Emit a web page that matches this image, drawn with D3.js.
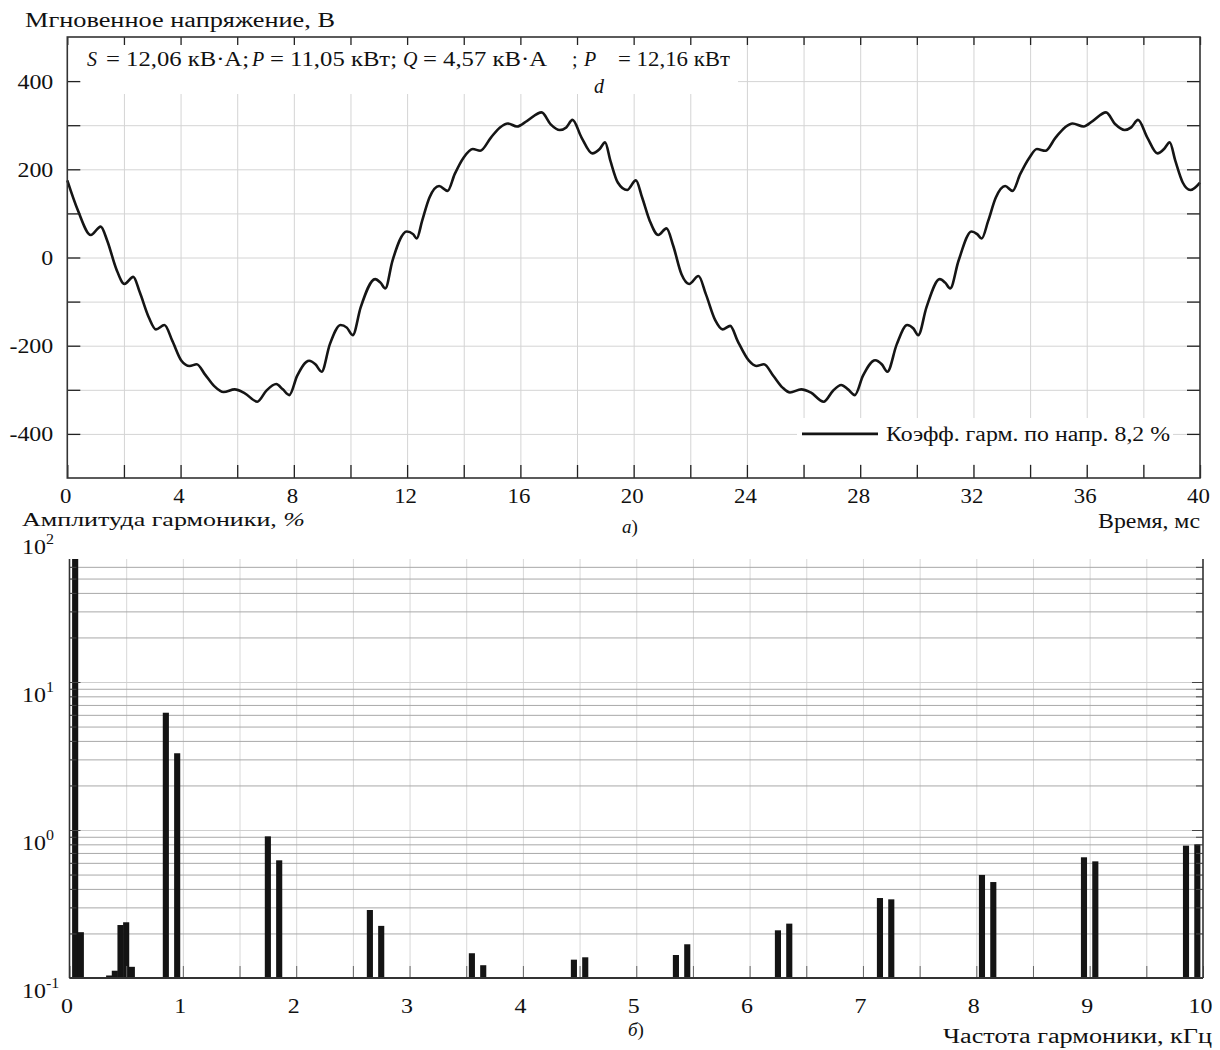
<!DOCTYPE html>
<html>
<head>
<meta charset="utf-8">
<script src="https://cdn.jsdelivr.net/npm/d3@7"></script>
<style>
    body { margin: 0; background: #fff; }
    svg { display: block; }
    text { font-family: "Liberation Serif", "Times New Roman", serif; font-size: 21px; fill: #111; }
</style>
</head>
<body>
<svg id="chart" width="1220" height="1050"></svg>
<script>
/*
    Data
*/
// (a) instantaneous voltage
const waveTime = [0, 0.38, 0.83, 1.18, 1.41, 1.73, 2.02, 2.33, 2.56, 2.88, 3.13, 3.43, 3.71, 4.03, 4.32, 4.57, 4.86, 5.18, 5.52, 5.91,
    6.27, 6.71, 7.03, 7.38, 7.61, 7.84, 8.12, 8.54, 8.76, 8.98, 9.27, 9.65, 9.87, 10.08, 10.36, 10.87, 11.06, 11.23, 11.48, 11.99,
    12.21, 12.34, 12.53, 12.79, 13.13, 13.43, 13.68, 14.0, 14.32, 14.58, 14.96, 15.28, 15.56, 15.88, 16.24, 16.75, 17.07, 17.39, 17.62, 17.84,
    18.16, 18.54, 18.8, 18.99, 19.18, 19.44, 19.77, 20.08, 20.3, 20.57, 20.87, 21.16, 21.4, 21.69, 21.96, 22.29, 22.55, 22.88, 23.14, 23.41,
    23.67, 24.07, 24.33, 24.6, 24.93, 25.26, 25.52, 25.92, 26.25, 26.71, 27.04, 27.33, 27.57, 27.81, 28.1, 28.53, 28.76, 28.96, 29.29, 29.66,
    29.88, 30.05, 30.34, 30.81, 31.0, 31.18, 31.47, 31.93, 32.13, 32.29, 32.52, 32.79, 33.12, 33.38, 33.65, 33.98, 34.24, 34.54, 34.9, 35.23,
    35.5, 35.89, 36.22, 36.68, 37.01, 37.34, 37.57, 37.81, 38.14, 38.5, 38.73, 38.93, 39.13, 39.39, 39.66, 40];
const waveVolt = [175, 106, 51, 70, 38, -26, -60, -44, -79, -136, -163, -153, -189, -234, -246, -242, -265, -291, -305, -299,
    -308, -327, -302, -287, -299, -312, -268, -234, -242, -259, -197, -153, -159, -176, -113, -49, -57, -70, -8, 59,
    53, 43, 83, 136, 162, 151, 189, 227, 246, 242, 272, 295, 304, 297, 310, 329, 302, 289, 295, 312,
    272, 236, 246, 261, 219, 170, 153, 175, 136, 83, 51, 66, 26, -38, -60, -42, -83, -142, -163, -155,
    -189, -234, -246, -242, -268, -295, -306, -299, -306, -327, -302, -289, -299, -312, -268, -233, -242, -259, -197, -153,
    -161, -176, -113, -49, -57, -70, -8, 59, 53, 43, 83, 136, 162, 151, 189, 227, 246, 242, 272, 295,
    304, 297, 310, 329, 302, 289, 295, 312, 272, 236, 246, 261, 219, 170, 153, 170];
const timeTicks = [0, 2, 4, 6, 8, 10, 12, 14, 16, 18, 20, 22, 24, 26, 28, 30, 32, 34, 36, 38, 40];
const timeLabels = [0, 4, 8, 12, 16, 20, 24, 28, 32, 36, 40];
const voltTicks = [-400, -300, -200, -100, 0, 100, 200, 300, 400];
const voltLabels = [-400, -200, 0, 200, 400];

// (б) harmonic spectrum
const harmFreq = [0.05, 0.1, 0.35, 0.4, 0.45, 0.5, 0.55, 0.85, 0.95, 1.75, 1.85, 2.65, 2.75, 3.55, 3.65, 4.45, 4.55,
    5.35, 5.45, 6.25, 6.35, 7.15, 7.25, 8.05, 8.15, 8.95, 9.05, 9.85, 9.95];
const harmAmp = [100, 0.204, 0.104, 0.112, 0.228, 0.238, 0.119, 6.2, 3.3, 0.906, 0.624, 0.288, 0.225, 0.147, 0.122, 0.133, 0.138,
    0.143, 0.169, 0.21, 0.233, 0.347, 0.34, 0.497, 0.445, 0.654, 0.614, 0.784, 0.8];
const freqTicks = [0, 0.5, 1, 1.5, 2, 2.5, 3, 3.5, 4, 4.5, 5, 5.5, 6, 6.5, 7, 7.5, 8, 8.5, 9, 9.5, 10];
const freqLabels = [0, 1, 2, 3, 4, 5, 6, 7, 8, 9, 10];
const ampGrid = [0.1, 0.2, 0.3, 0.4, 0.5, 0.6, 0.7, 0.8, 0.9, 1, 2, 3, 4, 5, 6, 7, 8, 9, 10, 20, 30, 40, 50, 60];
const ampDecades = [0.1, 1, 10, 100];
const ampExp = ["-1", "0", "1", "2"];

const SX = 1.14; // the scan is stretched horizontally
const svg = d3.select("#chart");

function label(g, x, y, s, o = {}) {
    const t = g.append("text").attr("x", x).attr("y", y);
    if (s !== null) t.text(s);
    if (o.size) t.style("font-size", o.size + "px");
    if (o.anchor) t.attr("text-anchor", o.anchor);
    if (o.italic) t.style("font-style", "italic");
    if (o.len) t.attr("textLength", o.len).attr("lengthAdjust", "spacingAndGlyphs");
    return t;
}

/*
    (a) Voltage waveform
*/
function drawWave() {
    const left = 67.3, right = 1200, top = 37, bottom = 478;
    const x = d3.scaleLinear().domain([0, 40]).range([left, right]);
    const y = d3.scaleLinear().domain([-500, 500]).range([bottom, top]);
    const g = svg.append("g");

    // Grid
    const gx = g.append("g").attr("transform", `translate(0,${bottom})`)
        .call(d3.axisBottom(x).tickValues(timeTicks.slice(1, -1)).tickSize(-(bottom - top)).tickFormat(""));
    const gy = g.append("g").attr("transform", `translate(${left},0)`)
        .call(d3.axisLeft(y).tickValues(voltTicks).tickSize(-(right - left)).tickFormat(""));
    [gx, gy].forEach(a => {
        a.select(".domain").remove();
        a.selectAll("line").attr("stroke", "#d4d4d4");
    });

    // White boxes behind annotation and legend
    g.append("rect").attr("x", left + 1).attr("y", top + 1).attr("width", 737 - left).attr("height", 93 - top).attr("fill", "#fff");
    g.append("rect").attr("x", 797).attr("y", 418).attr("width", 376).attr("height", 46).attr("fill", "#fff");

    // Curve
    const line = d3.line()
        .x((d, i) => x(waveTime[i]))
        .y(d => y(d))
        .curve(d3.curveMonotoneX);
    g.append("path").datum(waveVolt)
        .attr("d", line)
        .attr("fill", "none")
        .attr("stroke", "#151515")
        .attr("stroke-width", 2.6)
        .attr("stroke-linejoin", "round");

    // Axes ticks
    const axB = g.append("g").attr("transform", `translate(0,${bottom})`)
        .call(d3.axisBottom(x).tickValues(timeTicks).tickSizeInner(-13).tickSizeOuter(0)
            .tickFormat(d => timeLabels.includes(d) ? String(d) : ""));
    axB.selectAll("text").attr("y", 0).attr("dy", null).style("font-size", "20px")
        .attr("transform", `translate(-2,25) scale(${SX},1)`);
    const axT = g.append("g").attr("transform", `translate(0,${top})`)
        .call(d3.axisTop(x).tickValues(timeTicks).tickSizeInner(-8).tickSizeOuter(0).tickFormat(""));
    const axL = g.append("g").attr("transform", `translate(${left},0)`)
        .call(d3.axisLeft(y).tickValues(voltTicks).tickSizeInner(-13).tickSizeOuter(0)
            .tickFormat(d => voltLabels.includes(d) ? String(d) : ""));
    axL.selectAll("text").attr("x", 0).attr("dy", null).attr("transform", `translate(-14,7) scale(${SX},1)`);
    const axR = g.append("g").attr("transform", `translate(${right},0)`)
        .call(d3.axisRight(y).tickValues(voltTicks).tickSizeInner(-13).tickSizeOuter(0).tickFormat(""));
    [axB, axT, axL, axR].forEach(a => {
        a.select(".domain").remove();
        a.attr("color", "#222").attr("font-size", null).attr("font-family", null);
        a.selectAll("line").attr("stroke-width", 1.3);
    });

    // Frame
    g.append("rect").attr("x", left).attr("y", top).attr("width", right - left).attr("height", bottom - top)
        .attr("fill", "none").attr("stroke", "#333").attr("stroke-width", 1.6);

    // Annotation
    const ay = 66;
    label(g, 87, ay, "S", { italic: true, size: 20 });
    label(g, 106, ay, "= 12,06 кВ·А;", { size: 20, len: 143 });
    label(g, 252, ay, "P", { italic: true, size: 20 });
    label(g, 270, ay, "= 11,05 кВт;", { size: 20, len: 127 });
    label(g, 403, ay, "Q", { italic: true, size: 20 });
    label(g, 423, ay, "= 4,57 кВ·А", { size: 20, len: 124 });
    label(g, 572, ay, ";", { size: 20 });
    label(g, 584, ay, "P", { italic: true, size: 20 });
    label(g, 594, 93, "d", { italic: true, size: 20 });
    label(g, 618, ay, "= 12,16 кВт", { size: 20, len: 112 });

    // Legend
    g.append("line").attr("x1", 802).attr("x2", 878).attr("y1", y(-400)).attr("y2", y(-400))
        .attr("stroke", "#151515").attr("stroke-width", 2.6);
    label(g, 886, 441, "Коэфф. гарм. по напр. 8,2 %", { size: 20, len: 284 });

    // Titles
    label(g, 25, 27, "Мгновенное напряжение, В", { size: 20, len: 310 });
    label(g, 1200, 528, "Время, мс", { size: 20, anchor: "end", len: 102 });
    const ta = label(g, 622, 533, null, { size: 19 });
    ta.append("tspan").style("font-style", "italic").text("а");
    ta.append("tspan").text(")");
}

/*
    (б) Harmonic spectrum
*/
function drawSpectrum() {
    const left = 69.5, right = 1203, top = 559, bottom = 978;
    const x = d3.scaleLinear().domain([0, 10]).range([left, right]);
    const y = d3.scaleLog().domain([0.1, 100]).range([bottom, 534]);
    const g = svg.append("g");

    g.append("clipPath").attr("id", "clipSpec")
        .append("rect").attr("x", left).attr("y", top).attr("width", right - left).attr("height", bottom - top);

    // Grid
    const gx = g.append("g").attr("transform", `translate(0,${bottom})`)
        .call(d3.axisBottom(x).tickValues(freqTicks.slice(1, -1)).tickSize(-(bottom - top)).tickFormat(""));
    gx.selectAll("line").attr("stroke", "#d8d8d8");
    const gy = g.append("g").attr("transform", `translate(${left},0)`)
        .call(d3.axisLeft(y).tickValues(ampGrid.slice(1)).tickSize(-(right - left)).tickFormat(""));
    gy.selectAll("line").attr("stroke", d => ampDecades.includes(d) ? "#cfcfcf" : "#a8a8a8");
    [gx, gy].forEach(a => a.select(".domain").remove());

    // Bars
    const bw = x(0.054) - x(0);
    g.append("g").attr("clip-path", "url(#clipSpec)")
        .selectAll("rect")
        .data(harmAmp)
        .enter()
        .append("rect")
        .attr("x", (d, i) => x(harmFreq[i]) - bw / 2)
        .attr("width", bw)
        .attr("y", d => y(d))
        .attr("height", d => bottom - y(d))
        .attr("fill", "#141414");

    // Ticks
    const axB = g.append("g").attr("transform", `translate(0,${bottom})`)
        .call(d3.axisBottom(x).tickValues(freqTicks).tickSizeInner(-12).tickSizeOuter(0)
            .tickFormat(d => freqLabels.includes(d) ? String(d) : ""));
    axB.selectAll("text").attr("y", 0).attr("dy", null).attr("transform", `translate(-3,35) scale(${SX},1)`);
    axB.selectAll("line").attr("stroke", "#666");
    const axL = g.append("g").attr("transform", `translate(${left},0)`)
        .call(d3.axisLeft(y).tickValues(ampGrid).tickSizeInner(-7).tickSizeOuter(0).tickFormat(""));
    const axR = g.append("g").attr("transform", `translate(${right},0)`)
        .call(d3.axisRight(y).tickValues(ampGrid).tickSizeInner(-7).tickSizeOuter(0).tickFormat(""));
    [axL, axR].forEach(a => {
        a.selectAll(".tick").filter(d => ampDecades.includes(d)).select("line")
            .attr("x2", a === axL ? 11 : -11);
        a.selectAll("line").attr("stroke", "#444");
    });
    [axB, axL, axR].forEach(a => {
        a.select(".domain").remove();
        a.attr("color", "#222").attr("font-size", null).attr("font-family", null);
    });

    // Axis lines
    g.append("line").attr("x1", left).attr("x2", left).attr("y1", top).attr("y2", bottom).attr("stroke", "#333").attr("stroke-width", 1.6);
    g.append("line").attr("x1", right).attr("x2", right).attr("y1", top).attr("y2", bottom).attr("stroke", "#333").attr("stroke-width", 1.6);
    g.append("line").attr("x1", left).attr("x2", right).attr("y1", bottom).attr("y2", bottom).attr("stroke", "#333").attr("stroke-width", 2);

    // Log labels 10^n
    ampDecades.forEach((v, i) => {
        const t = label(g, 0, 0, null, { size: 21 }).attr("x", null).attr("y", null)
            .attr("transform", `translate(22,${y(v) + 20}) scale(${SX},1)`);
        t.append("tspan").text("10");
        t.append("tspan").attr("dy", -10).style("font-size", "14px").text(ampExp[i]);
    });

    // Titles
    const ty = label(g, 22, 526, null, { size: 19, len: 283 });
    ty.append("tspan").text("Амплитуда гармоники, ");
    ty.append("tspan").style("font-style", "italic").text("%");
    const tb = label(g, 628, 1036, null, { size: 19 });
    tb.append("tspan").style("font-style", "italic").text("б");
    tb.append("tspan").text(")");
    label(g, 1212, 1043, "Частота гармоники, кГц", { size: 20, anchor: "end", len: 269 });
}

drawWave();
drawSpectrum();
</script>
</body>
</html>
